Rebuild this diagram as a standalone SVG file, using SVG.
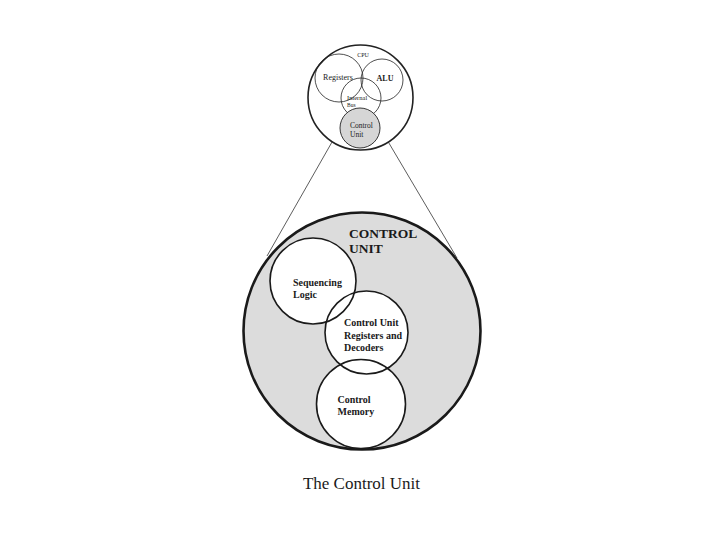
<svg xmlns="http://www.w3.org/2000/svg" width="720" height="540" viewBox="0 0 720 540">
<style>
  .t { font-family: "Liberation Serif", "Times New Roman", serif; fill: #1a1a1a; }
  .b { font-weight: bold; }
  .thin { fill: none; stroke: #222; stroke-width: 0.8; }
  .mid { fill: none; stroke: #222; stroke-width: 1.5; }
  .inner { fill: none; stroke: #1a1a1a; stroke-width: 1.6; }
  .white { fill: #ffffff; stroke: none; }
  .conn { stroke: #333; stroke-width: 0.8; fill: none; }
</style>
<rect width="720" height="540" fill="#ffffff"/>

<g id="connectors">
  <line class="conn" x1="340" y1="128" x2="267" y2="256"/>
  <line class="conn" x1="380" y1="128" x2="457" y2="258"/>
</g>

<g id="cpu">
  <circle cx="360.5" cy="97.5" r="52.5" fill="#ffffff" stroke="#222" stroke-width="1.6"/>
  <text class="t" x="363" y="57" font-size="6" text-anchor="middle">CPU</text>
</g>
<g id="registers">
  <circle class="thin" cx="339" cy="78" r="24"/>
  <text class="t" x="338" y="80" font-size="8" text-anchor="middle">Registers</text>
</g>
<g id="alu">
  <circle class="thin" cx="382" cy="80" r="21"/>
  <text class="t b" x="385" y="81" font-size="8" text-anchor="middle">ALU</text>
</g>
<g id="internal-bus">
  <circle class="thin" cx="361" cy="98" r="20"/>
  <text class="t" x="347" y="100" font-size="6.5">Internal</text>
  <text class="t" x="347" y="107" font-size="5.5">Bus</text>
</g>
<g id="cpu-control-unit">
  <circle cx="360" cy="128" r="20" fill="#d6d6d6" stroke="#222" stroke-width="0.9"/>
  <text class="t" x="350" y="128" font-size="7.5">Control</text>
  <text class="t" x="350" y="136.5" font-size="7.5">Unit</text>
</g>

<g id="control-unit">
  <circle cx="362" cy="331" r="118.5" fill="#dcdcdc" stroke="#1a1a1a" stroke-width="2.6"/>
  <text class="t b" x="349" y="238" font-size="13.5">CONTROL</text>
  <text class="t b" x="349" y="253" font-size="13.5">UNIT</text>
</g>

<g id="fills">
  <circle class="white" cx="313" cy="281" r="43"/>
  <circle class="white" cx="366.5" cy="332.5" r="41.5"/>
  <circle class="white" cx="361" cy="404" r="44.5"/>
</g>

<g id="sequencing-logic">
  <circle class="inner" cx="313" cy="281" r="43"/>
  <text class="t b" x="293" y="286" font-size="10">Sequencing</text>
  <text class="t b" x="293" y="298" font-size="10">Logic</text>
</g>
<g id="cu-registers-decoders">
  <circle class="inner" cx="366.5" cy="332.5" r="41.5"/>
  <text class="t b" x="344" y="326" font-size="10">Control Unit</text>
  <text class="t b" x="344" y="339" font-size="10">Registers and</text>
  <text class="t b" x="344" y="351" font-size="10">Decoders</text>
</g>
<g id="control-memory">
  <circle class="inner" cx="361" cy="404" r="44.5"/>
  <text class="t b" x="337.5" y="403" font-size="10">Control</text>
  <text class="t b" x="337.5" y="415" font-size="10">Memory</text>
</g>

<g id="caption">
  <text class="t" x="361.5" y="489" font-size="17" text-anchor="middle">The Control Unit</text>
</g>
</svg>
